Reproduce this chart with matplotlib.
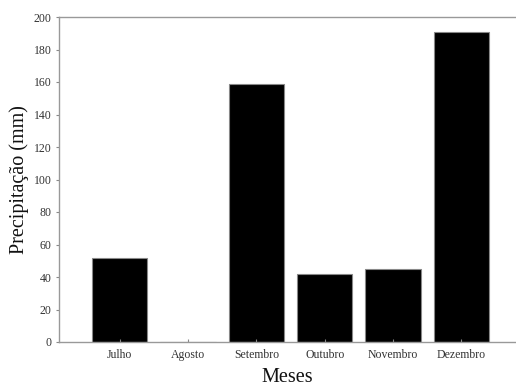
import matplotlib
matplotlib.use("Agg")
import matplotlib.pyplot as plt

months = ["Julho", "Agosto", "Setembro", "Outubro", "Novembro", "Dezembro"]
precip = [52, 0, 159, 42, 45, 191]
yticks = [0, 20, 40, 60, 80, 100, 120, 140, 160, 180, 200]

plt.rcParams['font.family'] = ['Liberation Serif', 'DejaVu Serif']

fig = plt.figure(figsize=(5.16, 3.86), dpi=100)
ax = fig.add_axes([59/516, 44/386, 1 - 59/516, (342 - 17)/386])

x = list(range(len(months)))
ax.bar(x, precip, width=0.81, color='black', edgecolor='#888888', linewidth=0.8)

ax.set_xlim(-0.89, 5.8)
ax.set_ylim(0, 200)
ax.set_yticks(yticks)
ax.set_xticks(x)
ax.set_xticklabels(months, fontsize=8.5, color='#333333')
ax.tick_params(axis='y', labelsize=8.5, labelcolor='#333333', length=2.5, width=0.8, color='#888888', direction='out', pad=3)
ax.tick_params(axis='x', length=2.5, width=0.8, color='#888888', direction='in', pad=5)

for s in ['left', 'top', 'bottom']:
    ax.spines[s].set_color('#999999')
    ax.spines[s].set_linewidth(1.0)
ax.spines['right'].set_visible(False)

ax.set_ylabel("Precipitação (mm)", fontsize=14.5, color='#111111', labelpad=3)
ax.set_xlabel("Meses", fontsize=14.5, color='#111111', labelpad=5)

fig.savefig("out.png", dpi=100)
